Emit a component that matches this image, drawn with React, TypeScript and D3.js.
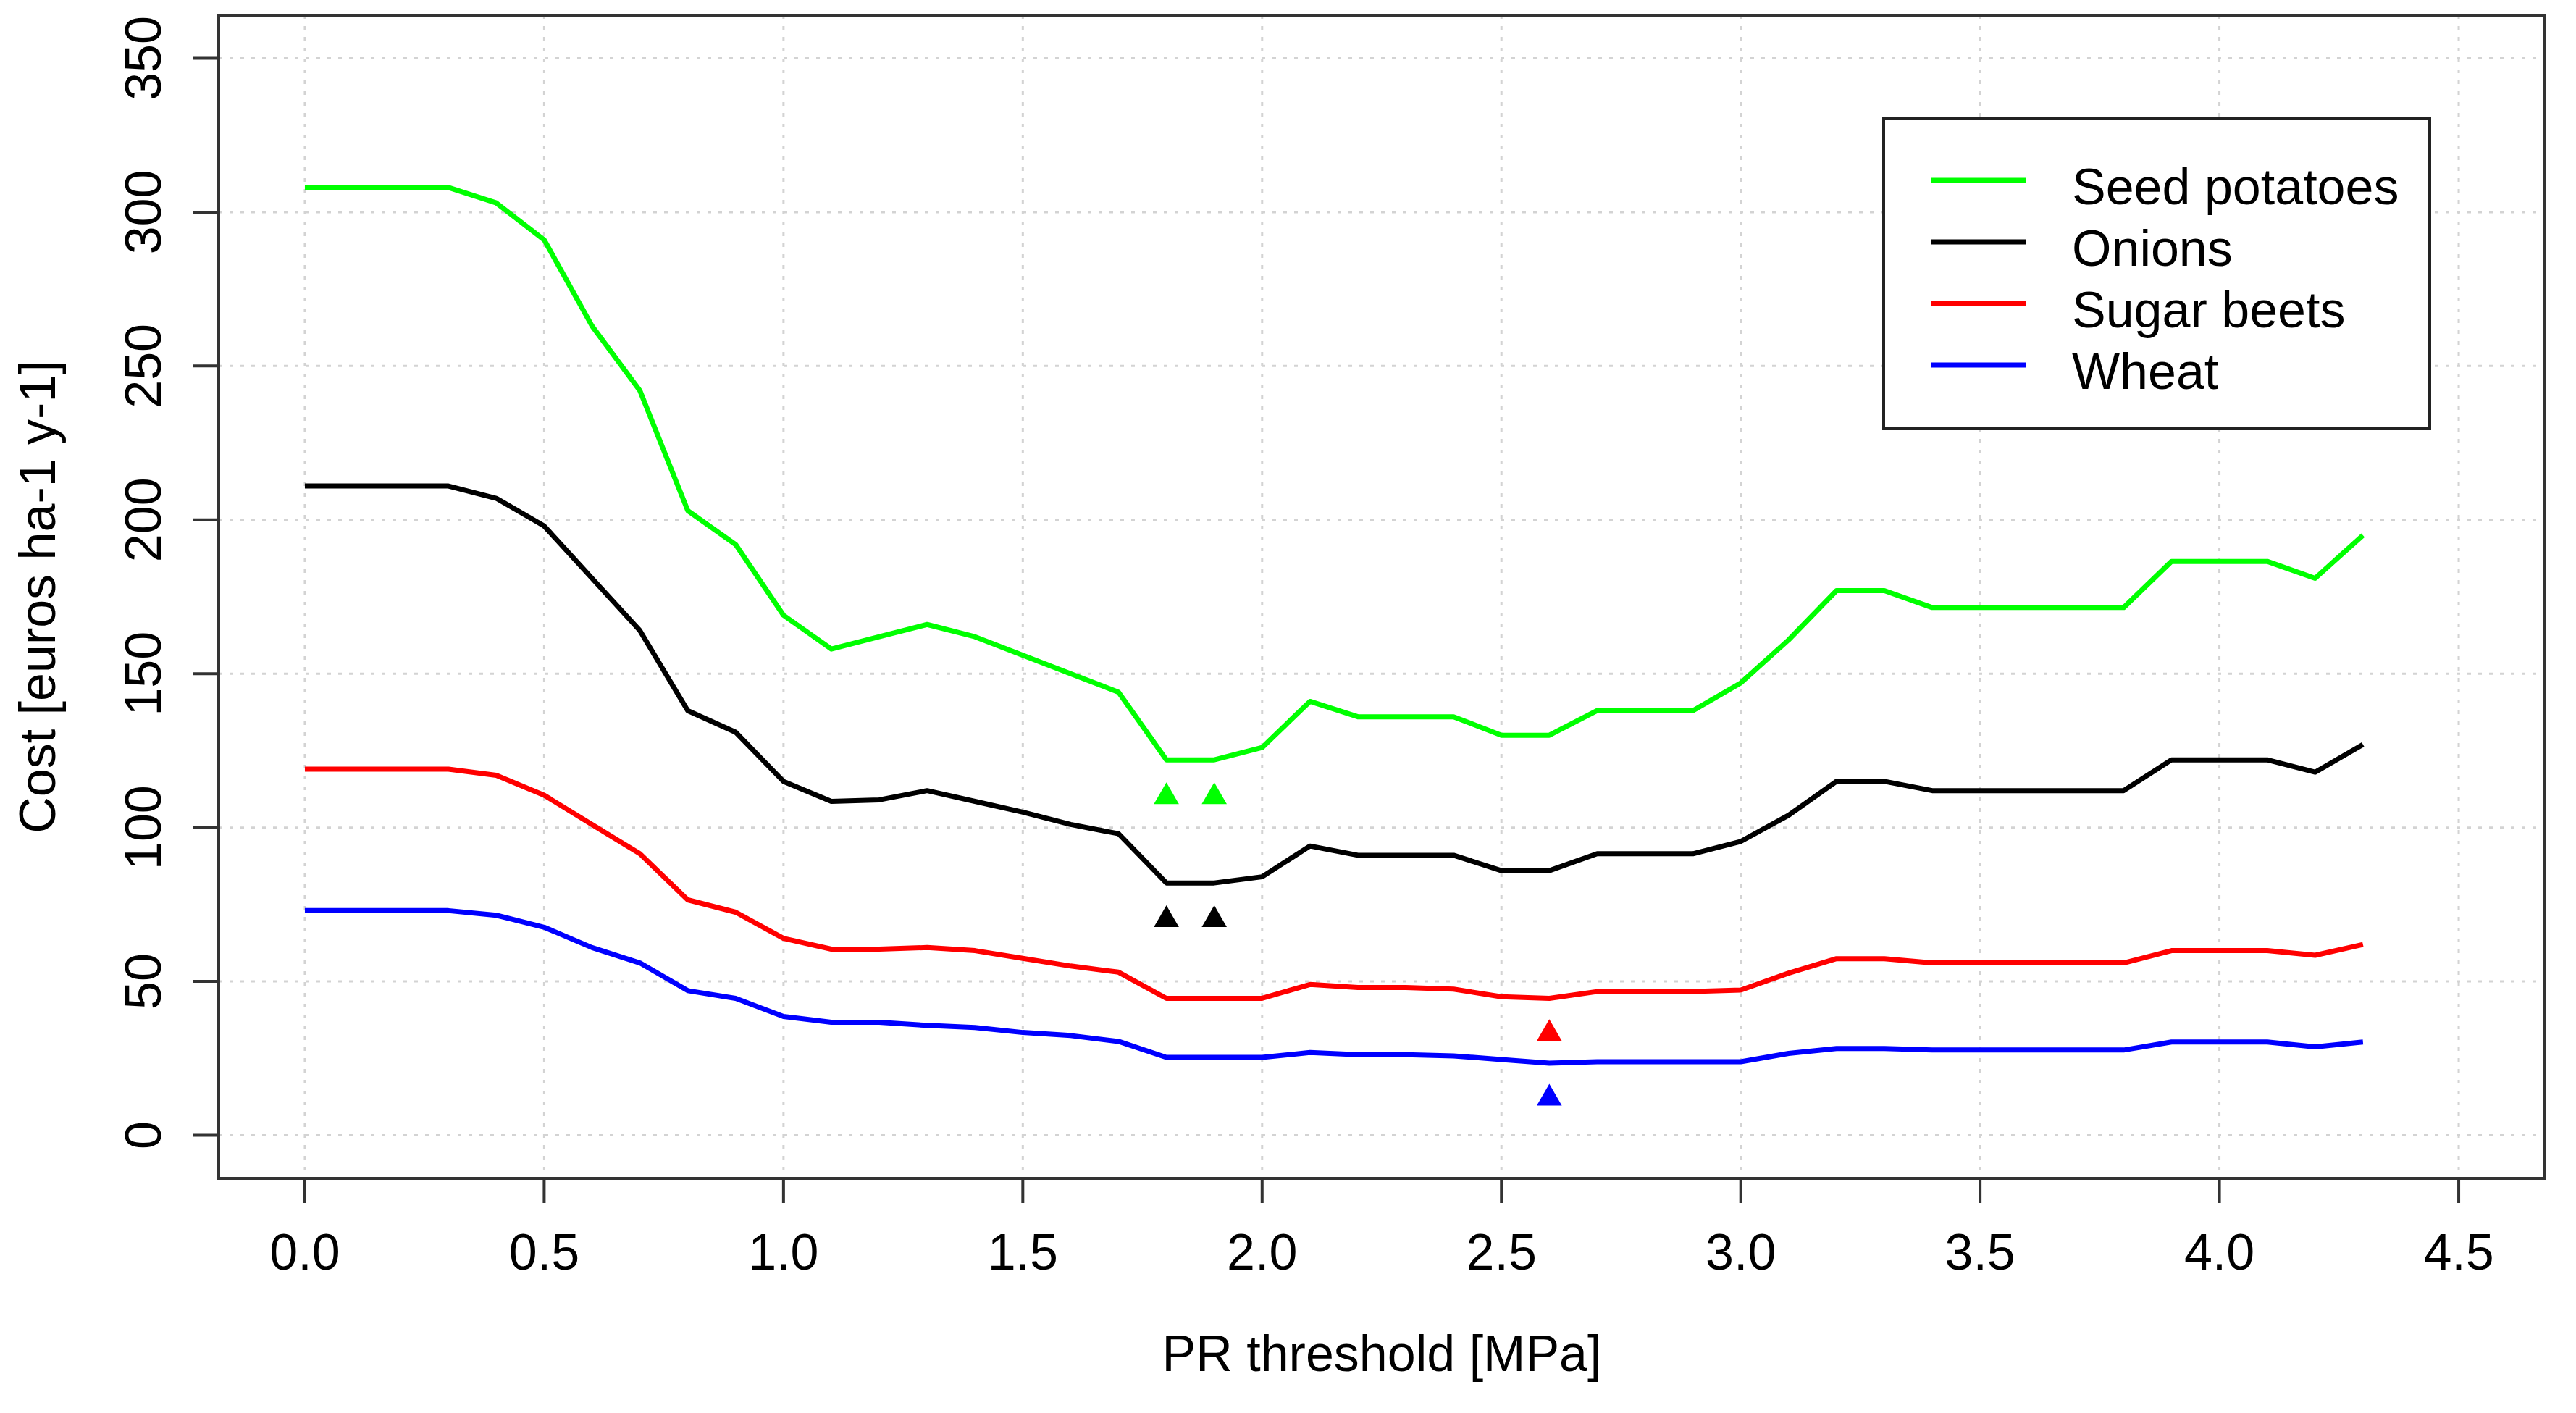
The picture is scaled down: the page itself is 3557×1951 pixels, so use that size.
import React from "react";
import * as d3 from "d3";

const thresholds = [0, 0.1, 0.2, 0.3, 0.4, 0.5, 0.6, 0.7, 0.8, 0.9, 1.0, 1.1, 1.2, 1.3, 1.4, 1.5, 1.6, 1.7, 1.8, 1.9, 2.0, 2.1, 2.2, 2.3, 2.4, 2.5, 2.6, 2.7, 2.8, 2.9, 3.0, 3.1, 3.2, 3.3, 3.4, 3.5, 3.6, 3.7, 3.8, 3.9, 4.0, 4.1, 4.2, 4.3];

const seedPotatoes = [308, 308, 308, 308, 303, 291, 263, 242, 203, 192, 169, 158, 162, 166, 162, 156, 150, 144, 122, 122, 126, 141, 136, 136, 136, 130, 130, 138, 138, 138, 147, 161, 177, 177, 171.5, 171.5, 171.5, 171.5, 171.5, 186.5, 186.5, 186.5, 181, 195];
const onions = [211, 211, 211, 211, 207, 198, 181, 164, 138, 131, 115, 108.5, 109, 112, 108.5, 105, 101, 98, 82, 82, 84, 94, 91, 91, 91, 86, 86, 91.5, 91.5, 91.5, 95.5, 104, 115, 115, 112, 112, 112, 112, 112, 122, 122, 122, 118, 127];
const sugarBeets = [119, 119, 119, 119, 117, 110.5, 101, 91.5, 76.5, 72.5, 64, 60.5, 60.5, 61, 60, 57.5, 55, 53, 44.5, 44.5, 44.5, 49, 48, 48, 47.5, 45, 44.5, 46.7, 46.7, 46.7, 47.2, 52.7, 57.4, 57.4, 56, 56, 56, 56, 56, 60, 60, 60, 58.5, 62];
const wheat = [73, 73, 73, 73, 71.5, 67.6, 61, 56, 47, 44.5, 38.6, 36.7, 36.7, 35.7, 35, 33.4, 32.4, 30.5, 25.3, 25.3, 25.3, 26.9, 26.2, 26.2, 25.8, 24.6, 23.4, 23.9, 23.9, 23.9, 23.9, 26.6, 28.2, 28.2, 27.7, 27.7, 27.7, 27.7, 27.7, 30.3, 30.3, 30.3, 28.7, 30.3];

const seriesNames = ["Seed potatoes", "Onions", "Sugar beets", "Wheat"];
const seriesColors = ["#00ff00", "#000000", "#ff0000", "#0000ff"];
const seriesValues = [seedPotatoes, onions, sugarBeets, wheat];

// optimum markers (filled triangles)
const markerX = [1.8, 1.9, 1.8, 1.9, 2.6, 2.6];
const markerY = [110, 110, 70, 70, 33, 12];
const markerSeries = [0, 0, 1, 1, 2, 3];

const xTicks = [0, 0.5, 1.0, 1.5, 2.0, 2.5, 3.0, 3.5, 4.0, 4.5];
const yTicks = [0, 50, 100, 150, 200, 250, 300, 350];

const xTitle = "PR threshold [MPa]";
const yTitle = "Cost [euros ha-1 y-1]";

const W = 3557;
const H = 1951;
const L = 302, R = 3514, T = 21, B = 1627;
const FONT = "'Liberation Sans', Arial, Helvetica, sans-serif";
const FS = 70;

export default function App() {
  const x = d3.scaleLinear().domain([-0.18, 4.68]).range([L, R]);
  const y = d3.scaleLinear().domain([-14, 364]).range([B, T]);

  const line = d3
    .line<number>()
    .x((_, i) => x(thresholds[i]))
    .y((d) => y(d));

  const tri = (cx: number, cy: number, r: number) => {
    const p = d3.path();
    const h1 = (r * Math.sqrt(3)) / 2;
    p.moveTo(cx, cy - r);
    p.lineTo(cx + h1, cy + r / 2);
    p.lineTo(cx - h1, cy + r / 2);
    p.closePath();
    return p.toString();
  };

  const legX = 2601, legY = 164, legW = 754, legH = 428;
  const legRowY = [249, 334, 419, 504];

  return (
    <svg
      width={W}
      height={H}
      viewBox={`0 0 ${W} ${H}`}
      style={{ position: "absolute", left: 0, top: 0, background: "#fff" }}
      fontFamily={FONT}
    >
      <rect x={0} y={0} width={W} height={H} fill="#fff" />
      {/* grid */}
      <g stroke="#d3d3d3" strokeWidth={3} strokeDasharray="5 10">
        {xTicks.map((t) => (
          <line key={"gx" + t} x1={x(t)} x2={x(t)} y1={T} y2={B} />
        ))}
        {yTicks.map((t) => (
          <line key={"gy" + t} x1={L} x2={R} y1={y(t)} y2={y(t)} />
        ))}
      </g>

      {/* series */}
      <g fill="none" strokeWidth={7} strokeLinejoin="round" strokeLinecap="butt">
        {seriesValues.map((vals, i) => (
          <path key={seriesNames[i]} d={line(vals) || ""} stroke={seriesColors[i]} />
        ))}
      </g>

      {/* markers */}
      {markerX.map((mx, i) => (
        <path key={"m" + i} d={tri(x(mx), y(markerY[i]), 20)} fill={seriesColors[markerSeries[i]]} />
      ))}

      {/* box */}
      <rect x={L} y={T} width={R - L} height={B - T} fill="none" stroke="#333" strokeWidth={4} />

      {/* x axis */}
      <g stroke="#333" strokeWidth={4}>
        {xTicks.map((t) => (
          <line key={"tx" + t} x1={x(t)} x2={x(t)} y1={B} y2={B + 34} />
        ))}
        {yTicks.map((t) => (
          <line key={"ty" + t} x1={L} x2={L - 35} y1={y(t)} y2={y(t)} />
        ))}
      </g>
      <g fontSize={FS} fill="#000" textAnchor="middle">
        {xTicks.map((t) => (
          <text key={"lx" + t} x={x(t)} y={1753}>
            {d3.format(".1f")(t)}
          </text>
        ))}
        {yTicks.map((t) => (
          <text key={"ly" + t} transform={`translate(222,${y(t)}) rotate(-90)`}>
            {String(t)}
          </text>
        ))}
        <text x={(L + R) / 2} y={1893}>
          {xTitle}
        </text>
        <text transform={`translate(76,${(T + B) / 2}) rotate(-90)`}>{yTitle}</text>
      </g>

      {/* legend */}
      <rect x={legX} y={legY} width={legW} height={legH} fill="#fff" stroke="#222" strokeWidth={4} />
      {seriesNames.map((name, i) => (
        <g key={"leg" + name}>
          <line x1={2667} x2={2797} y1={legRowY[i]} y2={legRowY[i]} stroke={seriesColors[i]} strokeWidth={7} />
          <text x={2861} y={legRowY[i] + 33} fontSize={FS} fill="#000">
            {name}
          </text>
        </g>
      ))}
    </svg>
  );
}
